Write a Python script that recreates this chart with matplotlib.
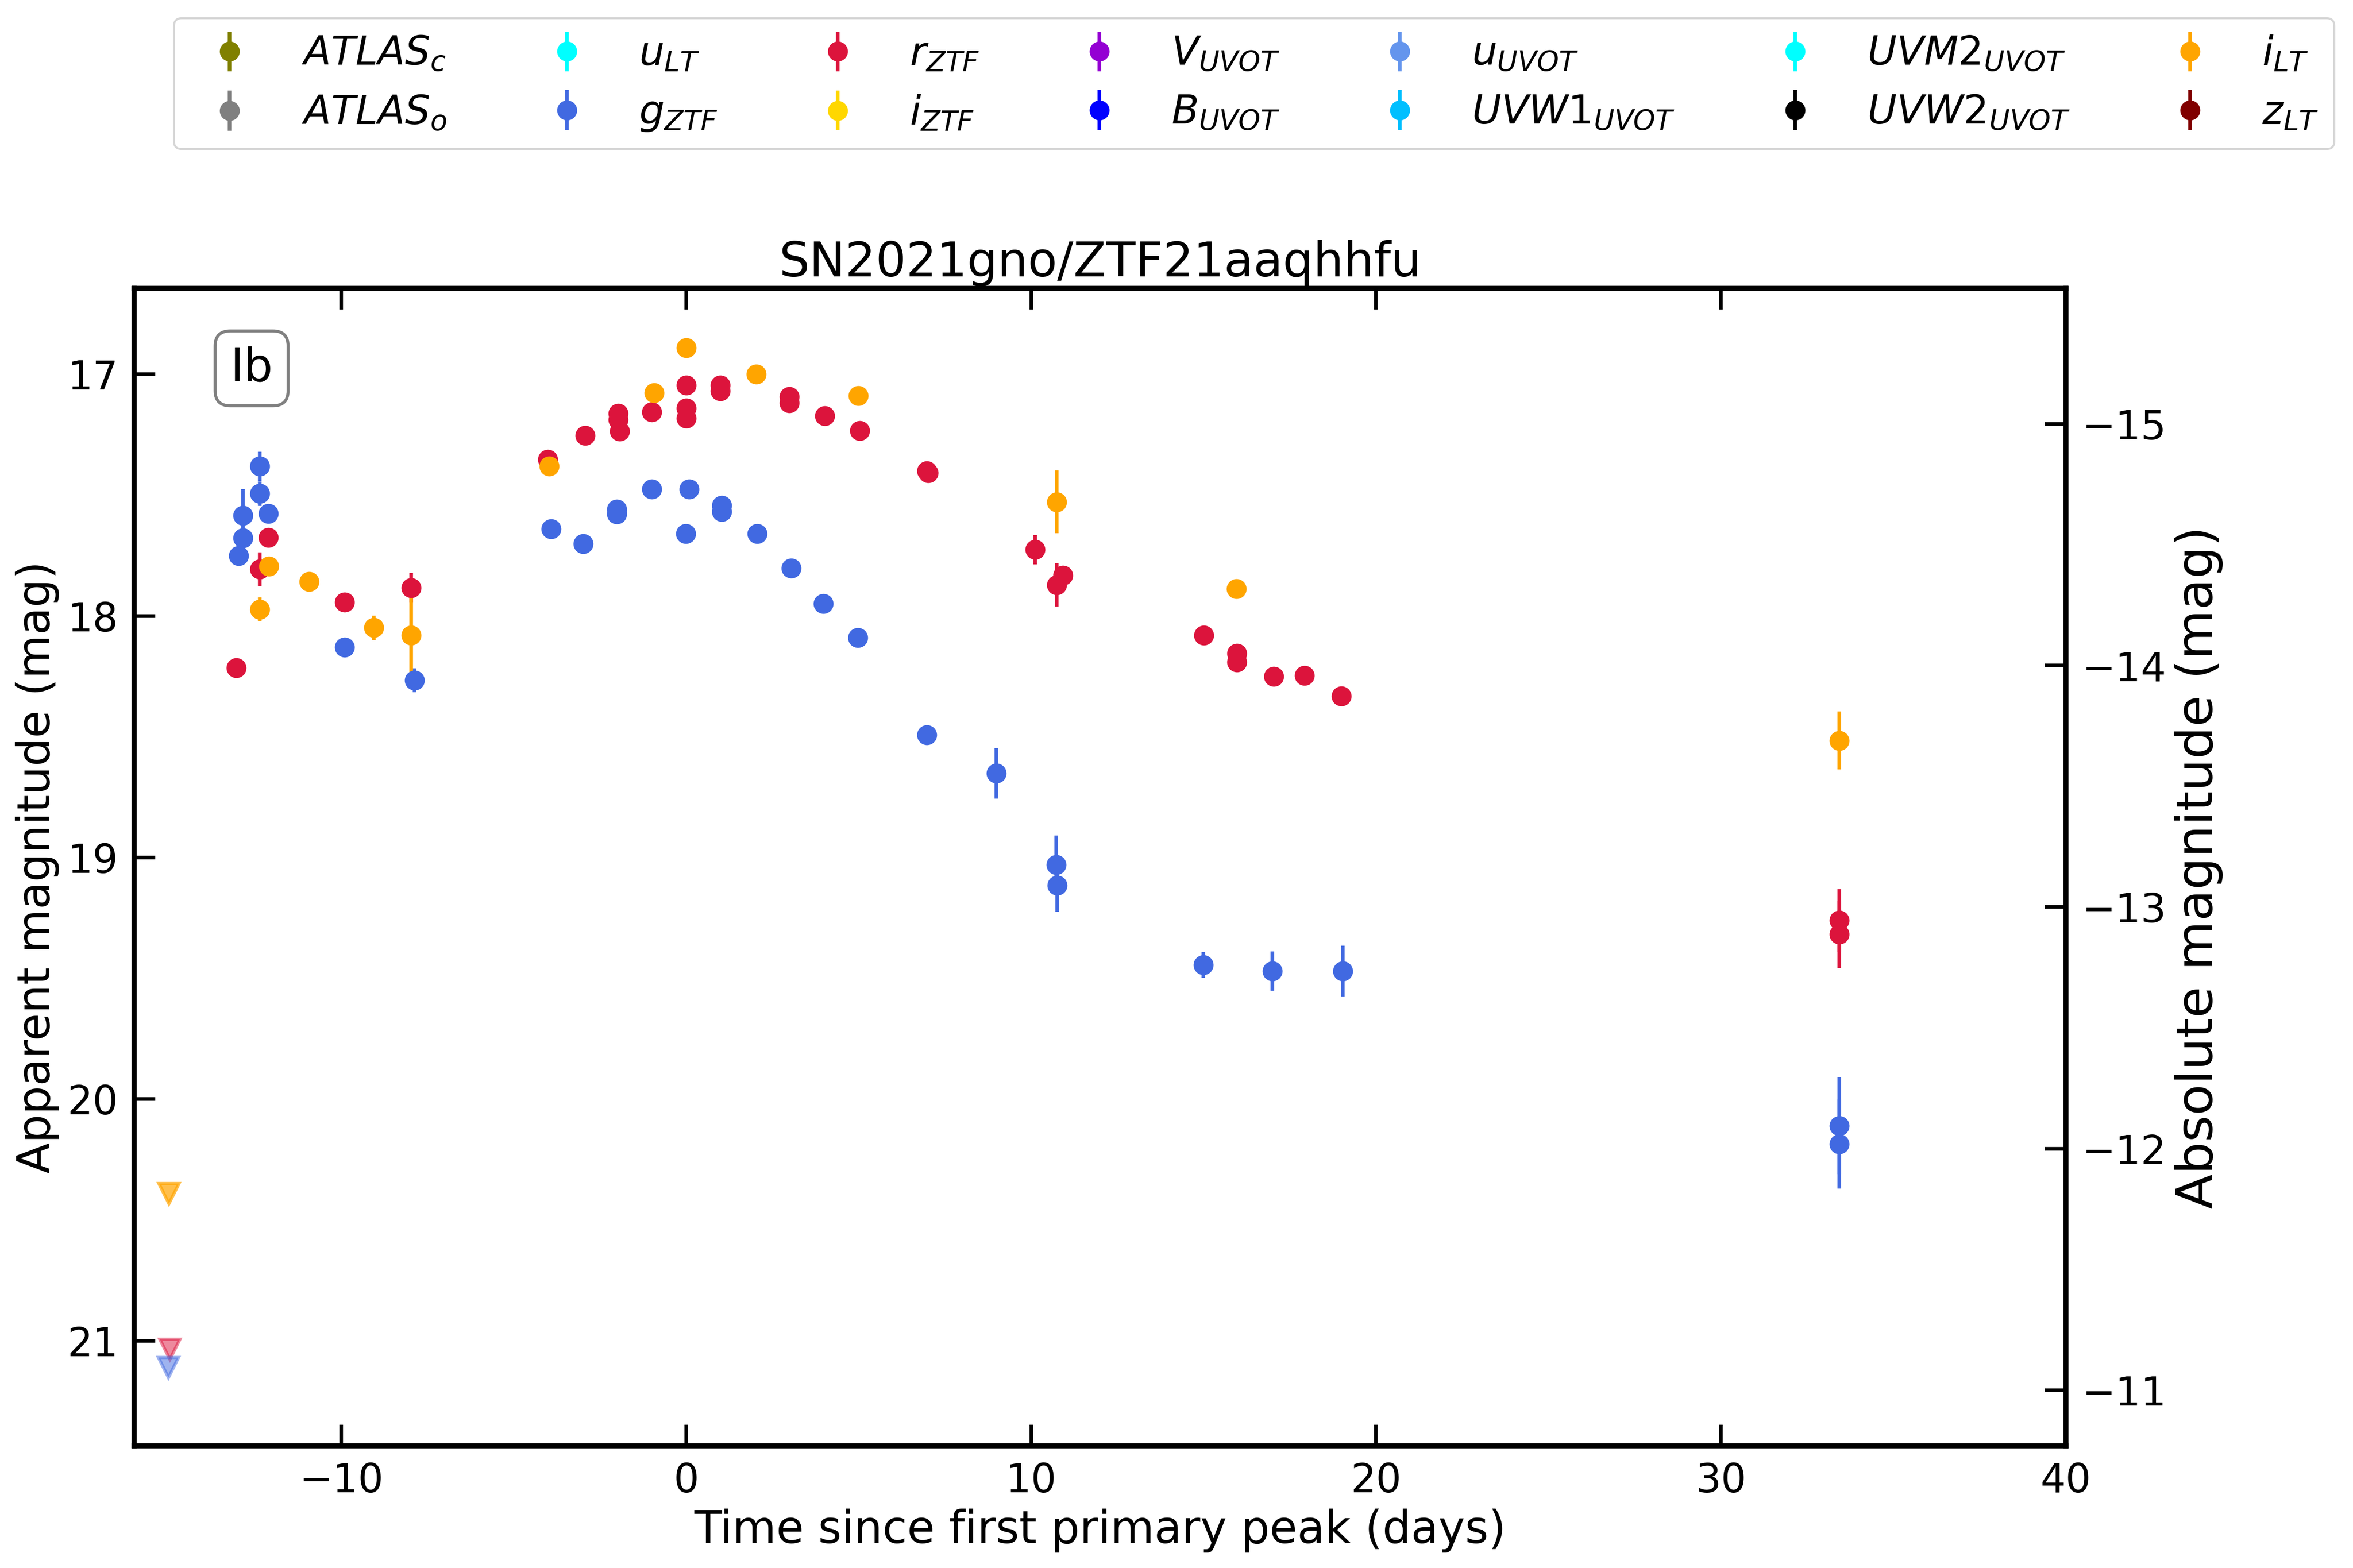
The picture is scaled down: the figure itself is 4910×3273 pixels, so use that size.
import numpy as np
import matplotlib
matplotlib.use("Agg")
import matplotlib.pyplot as plt

# ---------------- data ----------------
# g (ZTF)
g_t = [-12.98, -12.85, -12.85, -12.37, -12.37, -12.11, -9.91, -7.88,
       -3.92, -2.99, -2.02, -2.02, -1.0, -0.01, 0.09, 1.03, 1.03, 2.06,
       3.04, 3.97, 4.98, 6.98, 8.99, 10.73, 10.75, 14.99, 16.99, 19.04,
       33.43, 33.43]
g_m = [17.75, 17.677, 17.585, 17.381, 17.494, 17.577, 18.129, 18.267,
       17.639, 17.702, 17.559, 17.578, 17.476, 17.66, 17.476, 17.543, 17.569, 17.659,
       17.803, 17.95, 18.09, 18.493, 18.652, 19.029, 19.115, 19.444, 19.47, 19.47,
       20.11, 20.186]
g_e = [0.02, 0.02, 0.11, 0.06, 0.05, 0.02, 0.02, 0.05,
       0.02, 0.02, 0.02, 0.02, 0.02, 0.02, 0.02, 0.02, 0.02, 0.02,
       0.02, 0.02, 0.02, 0.02, 0.104, 0.12, 0.109, 0.053, 0.081, 0.106,
       0.20, 0.185]

# r (ZTF)
r_t = [-13.04, -12.37, -12.11, -9.91, -7.97, -4.02, -2.93, -1.97, -1.97,
       -1.93, -1.0, 0.0, 0.0, 0.0, 0.98, 0.98, 2.99, 2.99, 4.02, 5.03,
       6.97, 7.02, 10.12, 10.74, 10.92, 15.0, 15.97, 15.97, 17.03, 17.93,
       18.99, 33.43, 33.43]
r_m = [18.215, 17.807, 17.675, 17.943, 17.883, 17.352, 17.254, 17.162, 17.188,
       17.236, 17.156, 17.045, 17.14, 17.181, 17.046, 17.069, 17.092, 17.118, 17.172, 17.234,
       17.40, 17.408, 17.726, 17.872, 17.833, 18.081, 18.156, 18.191, 18.251, 18.247,
       18.331, 19.26, 19.318]
r_e = [0.02, 0.07, 0.04, 0.02, 0.06, 0.02, 0.02, 0.02, 0.02,
       0.02, 0.02, 0.02, 0.02, 0.02, 0.02, 0.02, 0.02, 0.02, 0.02, 0.02,
       0.02, 0.02, 0.06, 0.09, 0.02, 0.02, 0.02, 0.02, 0.02, 0.02,
       0.02, 0.13, 0.14]

# i (LT)
iLT_t = [-12.37, -12.1, -10.93, -9.06, -7.97, -3.98, -0.93, 0.0, 2.03,
         4.99, 10.74, 15.95, 33.43]
iLT_m = [17.973, 17.794, 17.858, 18.049, 18.08, 17.381, 17.077, 16.891, 16.999,
         17.089, 17.528, 17.887, 18.516]
iLT_e = [0.05, 0.02, 0.02, 0.05, 0.17, 0.02, 0.02, 0.02, 0.02,
         0.02, 0.13, 0.02, 0.12]

# upper limits
lim_t = [-15.0, -14.97, -15.02]
lim_m = [20.39, 21.035, 21.11]
lim_band = ["i_LT", "r_ZTF", "g_ZTF"]
lim_alpha = [0.7, 0.5, 0.5]

DM = 32.205  # distance modulus used for absolute-magnitude axis

bands = ["ATLAS_c", "ATLAS_o", "u_LT", "g_ZTF", "r_ZTF", "i_ZTF", "V_UVOT",
         "B_UVOT", "u_UVOT", "UVW1_UVOT", "UVM2_UVOT", "UVW2_UVOT", "i_LT", "z_LT"]
labels = [r"$ATLAS_c$", r"$ATLAS_o$", r"$u_{LT}$", r"$g_{ZTF}$", r"$r_{ZTF}$",
          r"$i_{ZTF}$", r"$V_{UVOT}$", r"$B_{UVOT}$", r"$u_{UVOT}$",
          r"$UVW1_{UVOT}$", r"$UVM2_{UVOT}$", r"$UVW2_{UVOT}$", r"$i_{LT}$", r"$z_{LT}$"]
colors = ["olive", "grey", "cyan", "royalblue", "crimson", "gold", "darkviolet",
          "blue", "cornflowerblue", "deepskyblue", "aqua", "black", "orange", "maroon"]

data = {
    "g_ZTF": (g_t, g_m, g_e),
    "r_ZTF": (r_t, r_m, r_e),
    "i_LT": (iLT_t, iLT_m, iLT_e),
}

# ---------------- plot ----------------
fig = plt.figure(figsize=(4910 / 300, 3273 / 300), dpi=300)
ax = fig.add_axes([0.0571, 0.0779, 0.8209, 0.7381])

handles = []
for b, lab, c in zip(bands, labels, colors):
    t, m, e = data.get(b, ([], [], []))
    h = ax.errorbar(t, m, yerr=e, fmt="o", color=c, ms=9, elinewidth=1.8,
                    capsize=0, label=lab)
    handles.append(h)

for t, m, b, a in zip(lim_t, lim_m, lim_band, lim_alpha):
    c = colors[bands.index(b)]
    ax.plot([t], [m], marker="v", ls="none", color=c, ms=10, mew=1.6,
            alpha=a)

ax.set_xlim(-16, 40)
ax.set_ylim(21.435, 16.645)

ax.set_xlabel("Time since first primary peak (days)", fontsize=22.5)
ax.set_ylabel("Apparent magnitude (mag)", fontsize=22.5)
ax.set_title("SN2021gno/ZTF21aaqhhfu", fontsize=24)

ax.tick_params(axis="both", which="major", direction="in", length=10.5,
               width=1.8, labelsize=20, pad=8)
ax.tick_params(axis="x", top=True)
ax.tick_params(axis="y", right=False)
ax.set_xticks([-10, 0, 10, 20, 30, 40])
ax.set_yticks([17, 18, 19, 20, 21])
for s in ax.spines.values():
    s.set_linewidth(2.5)

ax2 = ax.twinx()
ax2.set_ylim(21.435 - DM, 16.645 - DM)
ax2.set_yticks([-15, -14, -13, -12, -11])
ax2.tick_params(axis="y", direction="in", length=10.5, width=1.8,
                labelsize=20, pad=8)
ax2.set_ylabel("Absolute magnitude (mag)", fontsize=25.5)
for s in ax2.spines.values():
    s.set_linewidth(2.5)

ax.text(0.0607, 0.931, "Ib", transform=ax.transAxes, fontsize=23,
        ha="center", va="center",
        bbox=dict(boxstyle="round,pad=0.33", facecolor="white",
                  edgecolor="grey", linewidth=1.5))

fig.legend(handles=handles, loc="upper center", bbox_to_anchor=(0.533, 0.9884),
           ncol=7, fontsize=20, borderaxespad=0)

fig.savefig("out.png", dpi=300)
